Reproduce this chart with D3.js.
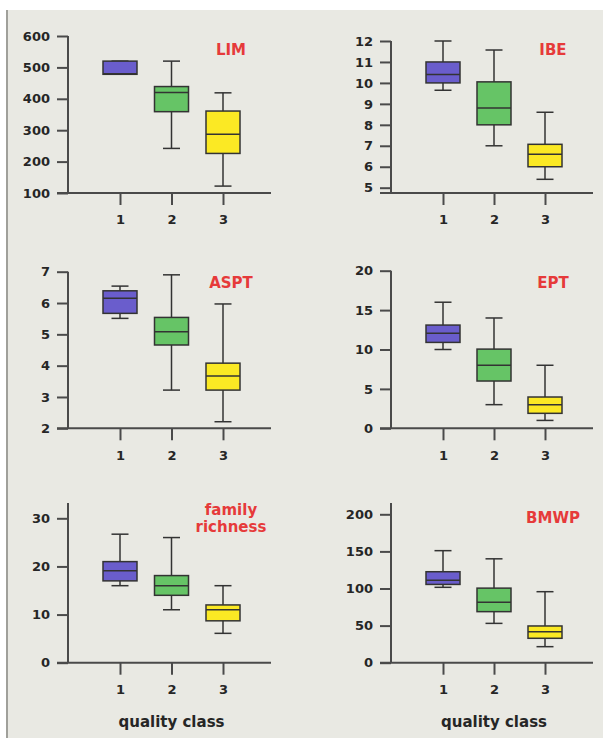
<!DOCTYPE html>
<html>
<head>
<meta charset="utf-8">
<script src="https://cdn.jsdelivr.net/npm/d3@7"></script>
<style>
  body { margin: 0; background: white; }
  text { font-family: "DejaVu Sans", Verdana, sans-serif; font-weight: bold; }
</style>
</head>
<body>
<div id="container"></div>
<script>
let w = 603;
let h = 738;

// quality classes
let classes = ["1", "2", "3"];

// each row: [min, q1, median, q3, max] for class 1, 2, 3
let lim = [[480, 478, 480, 520, 520], [242, 359, 420, 439, 520], [122, 226, 287, 361, 419]];
let ibe = [[9.65, 10.0, 10.4, 11.0, 12.0], [7.0, 8.0, 8.8, 10.05, 11.57], [5.4, 6.0, 6.6, 7.07, 8.6]];
let aspt = [[5.51, 5.67, 6.15, 6.39, 6.54], [3.22, 4.66, 5.08, 5.54, 6.9], [2.21, 3.22, 3.67, 4.08, 5.97]];
let ept = [[10, 10.9, 12.05, 13.1, 16], [3, 6, 8, 10.05, 14], [1, 1.9, 3, 3.97, 8]];
let family = [[16, 17, 19.1, 21, 26.7], [11, 14, 16, 18.1, 26], [6.1, 8.7, 11, 12, 16]];
let bmwp = [[101.6, 105.5, 111, 122.6, 151], [53, 68.8, 81.5, 100.5, 140], [21.6, 32.9, 41.7, 49.5, 95.7]];

// tick labels per panel
let limTicks = [100, 200, 300, 400, 500, 600];
let ibeTicks = [5, 6, 7, 8, 9, 10, 11, 12];
let asptTicks = [2, 3, 4, 5, 6, 7];
let eptTicks = [0, 5, 10, 15, 20];
let familyTicks = [0, 10, 20, 30];
let bmwpTicks = [0, 50, 100, 150, 200];

let boxColors = ["#6a5dcc", "#66c466", "#fbe924"];

let viz = d3.select("#container")
  .append("svg")
  .attr("width", w)
  .attr("height", h);

// page background with the grey left rule
viz.append("rect")
  .attr("x", 8).attr("y", 10)
  .attr("width", w - 8).attr("height", h - 10)
  .attr("fill", "#e9e9e3");
viz.append("line")
  .attr("x1", 7).attr("x2", 7)
  .attr("y1", 10).attr("y2", h)
  .attr("stroke", "#a0a09a")
  .attr("stroke-width", 2);

function drawPanel(opts) {
  let g = viz.append("g");

  let y = d3.scaleLinear().domain(opts.domain).range(opts.range);
  let x = d3.scalePoint().domain(classes).range(opts.xRange);

  // y axis ticks and labels
  let yAxis = d3.axisLeft(y)
    .tickValues(opts.ticks)
    .tickFormat(d3.format("d"))
    .tickSize(11)
    .tickSizeOuter(0)
    .tickPadding(7);

  let ag = g.append("g")
    .attr("transform", "translate(" + opts.axisX + ",0)")
    .call(yAxis);
  ag.select(".domain").remove();
  ag.selectAll(".tick line").attr("stroke", "#4a4a4a").attr("stroke-width", 2);
  ag.selectAll(".tick text")
    .attr("fill", "#262626")
    .style("font-size", "13px")
    .style("font-family", "'DejaVu Sans', sans-serif")
    .style("font-weight", "bold");

  // axis lines
  g.append("line")
    .attr("x1", opts.axisX).attr("x2", opts.axisX)
    .attr("y1", opts.top).attr("y2", opts.base)
    .attr("stroke", "#4a4a4a").attr("stroke-width", 2);
  g.append("line")
    .attr("x1", opts.axisX - 11).attr("x2", opts.xEnd)
    .attr("y1", opts.base).attr("y2", opts.base)
    .attr("stroke", "#4a4a4a").attr("stroke-width", 2);

  // x axis ticks and labels
  let xAxis = d3.axisBottom(x).tickSize(12).tickSizeOuter(0).tickPadding(10);
  let xg = g.append("g")
    .attr("transform", "translate(0," + opts.base + ")")
    .call(xAxis);
  xg.select(".domain").remove();
  xg.selectAll(".tick line").attr("stroke", "#4a4a4a").attr("stroke-width", 2);
  xg.selectAll(".tick text")
    .attr("fill", "#262626")
    .style("font-size", "13px")
    .style("font-family", "'DejaVu Sans', sans-serif")
    .style("font-weight", "bold");

  // boxes
  let boxW = 34;
  let capW = 17;
  let boxes = g.selectAll(".box").data(opts.data).enter()
    .append("g")
    .attr("class", "box")
    .attr("transform", function(d, i) {
      return "translate(" + x(classes[i]) + ",0)";
    });

  boxes.append("line")
    .attr("x1", 0).attr("x2", 0)
    .attr("y1", function(d) { return y(d[0]); })
    .attr("y2", function(d) { return y(d[4]); })
    .attr("stroke", "#333").attr("stroke-width", 1.5);
  boxes.append("line")
    .attr("x1", -capW / 2).attr("x2", capW / 2)
    .attr("y1", function(d) { return y(d[0]); })
    .attr("y2", function(d) { return y(d[0]); })
    .attr("stroke", "#333").attr("stroke-width", 1.5);
  boxes.append("line")
    .attr("x1", -capW / 2).attr("x2", capW / 2)
    .attr("y1", function(d) { return y(d[4]); })
    .attr("y2", function(d) { return y(d[4]); })
    .attr("stroke", "#333").attr("stroke-width", 1.5);
  boxes.append("rect")
    .attr("x", -boxW / 2)
    .attr("width", boxW)
    .attr("y", function(d) { return y(d[3]); })
    .attr("height", function(d) { return y(d[1]) - y(d[3]); })
    .attr("fill", function(d, i) { return boxColors[i]; })
    .attr("stroke", "#333").attr("stroke-width", 1.5);
  boxes.append("line")
    .attr("x1", -boxW / 2).attr("x2", boxW / 2)
    .attr("y1", function(d) { return y(d[2]); })
    .attr("y2", function(d) { return y(d[2]); })
    .attr("stroke", "#333").attr("stroke-width", 1.5);

  // title
  let t = g.append("text")
    .attr("x", opts.titleX)
    .attr("y", opts.titleY)
    .attr("text-anchor", "middle")
    .attr("fill", "#e63a3a")
    .style("font-size", "15px");
  opts.title.forEach(function(line, i) {
    t.append("tspan").attr("x", opts.titleX).attr("dy", i == 0 ? 0 : 17).text(line);
  });

  if (opts.xLabel) {
    g.append("text")
      .text("quality class")
      .attr("x", (opts.xRange[0] + opts.xRange[1]) / 2)
      .attr("y", opts.base + 64)
      .attr("text-anchor", "middle")
      .attr("fill", "#262626")
      .style("font-size", "15px");
  }
}

let leftCol = { axisX: 68, xEnd: 271, xRange: [120, 223], titleX: 231 };
let rightCol = { axisX: 391, xEnd: 593, xRange: [443, 545], titleX: 553 };

drawPanel(Object.assign({}, leftCol, {
  data: lim, ticks: limTicks, domain: [100, 600], range: [193, 36],
  top: 36, base: 193, title: ["LIM"], titleY: 55
}));
drawPanel(Object.assign({}, rightCol, {
  data: ibe, ticks: ibeTicks, domain: [5, 12], range: [187.7, 41],
  top: 41, base: 193, title: ["IBE"], titleY: 55
}));
drawPanel(Object.assign({}, leftCol, {
  data: aspt, ticks: asptTicks, domain: [2, 7], range: [428.3, 271.7],
  top: 271.7, base: 428.3, title: ["ASPT"], titleY: 288
}));
drawPanel(Object.assign({}, rightCol, {
  data: ept, ticks: eptTicks, domain: [0, 20], range: [428.3, 270.7],
  top: 270.7, base: 428.3, title: ["EPT"], titleY: 288
}));
drawPanel(Object.assign({}, leftCol, {
  data: family, ticks: familyTicks, domain: [0, 30], range: [662.7, 518.3],
  top: 503, base: 662.7, title: ["family", "richness"], titleY: 515, xLabel: true
}));
drawPanel(Object.assign({}, rightCol, {
  data: bmwp, ticks: bmwpTicks, domain: [0, 200], range: [662.7, 514.3],
  top: 503, base: 662.7, title: ["BMWP"], titleY: 523, xLabel: true
}));
</script>
</body>
</html>
